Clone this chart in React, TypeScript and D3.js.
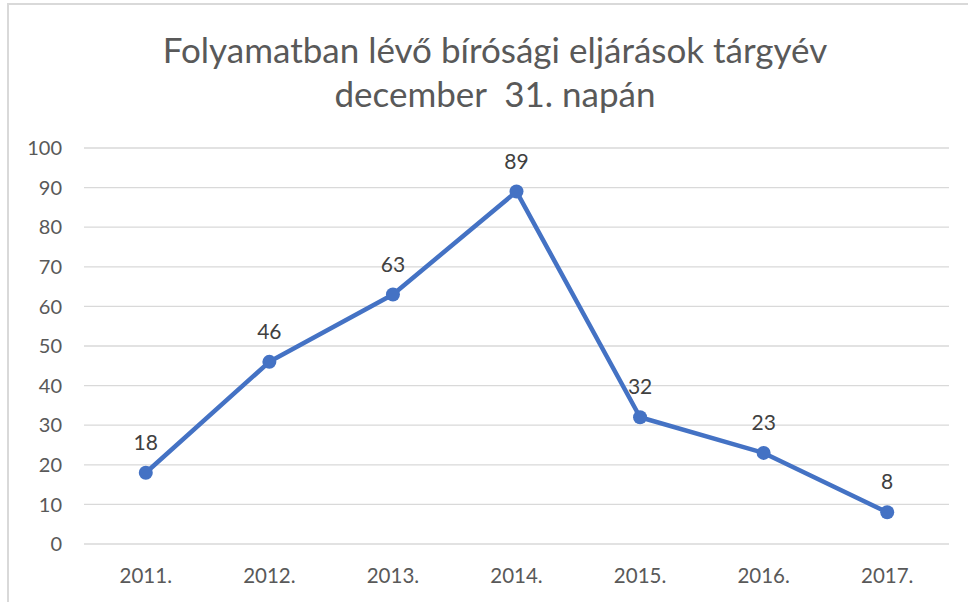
import React from "react";
import * as d3 from "d3";

const categories = ["2011.", "2012.", "2013.", "2014.", "2015.", "2016.", "2017."];
const values = [18, 46, 63, 89, 32, 23, 8];
const yTicks = [0, 10, 20, 30, 40, 50, 60, 70, 80, 90, 100];
const titleLines = ["Folyamatban lévő bírósági eljárások tárgyév", "december  31. napán"];

export default function App() {
  const W = 968, H = 602;
  const left = 84, right = 949, top = 148, bottom = 544;
  const x = d3.scaleBand<string>().domain(categories).range([left, right]);
  const y = d3.scaleLinear().domain([0, 100]).range([bottom, top]);
  const line = d3.line<number>()
    .x((_, i) => (x(categories[i]) as number) + x.bandwidth() / 2)
    .y((d) => y(d));
  const font = "Lato, 'Open Sans', sans-serif";
  return (
    <svg width={W} height={H} style={{ position: "absolute", left: 0, top: 0 }} fontFamily={font}>
      <rect x={0} y={0} width={W} height={H} fill="#fff" />
      <rect x={8} y={4} width={W + 20} height={H + 20} fill="none" stroke="#d9d9d9" strokeWidth={2} />
      {titleLines.map((t, i) => (
        <text key={i} x={495} y={63 + i * 44} textAnchor="middle" fontSize={35} fill="#595959" xmlSpace="preserve">{t}</text>
      ))}
      {yTicks.map((t) => (
        <g key={t}>
          <line x1={left} x2={right} y1={y(t)} y2={y(t)} stroke="#d9d9d9" strokeWidth={1.3} />
          <text x={62} y={y(t)} dy="0.36em" textAnchor="end" fontSize={20} fill="#595959">{t}</text>
        </g>
      ))}
      {categories.map((c) => (
        <text key={c} x={(x(c) as number) + x.bandwidth() / 2} y={583} textAnchor="middle" fontSize={20.5} fill="#595959">{c}</text>
      ))}
      <path d={line(values) || ""} fill="none" stroke="#4472C4" strokeWidth={4.5} strokeLinejoin="round" />
      {values.map((v, i) => {
        const cx = (x(categories[i]) as number) + x.bandwidth() / 2;
        return (
          <g key={i}>
            <circle cx={cx} cy={y(v)} r={7} fill="#4472C4" />
            <text x={cx} y={y(v) - 23} textAnchor="middle" fontSize={21} fill="#404040">{v}</text>
          </g>
        );
      })}
    </svg>
  );
}
